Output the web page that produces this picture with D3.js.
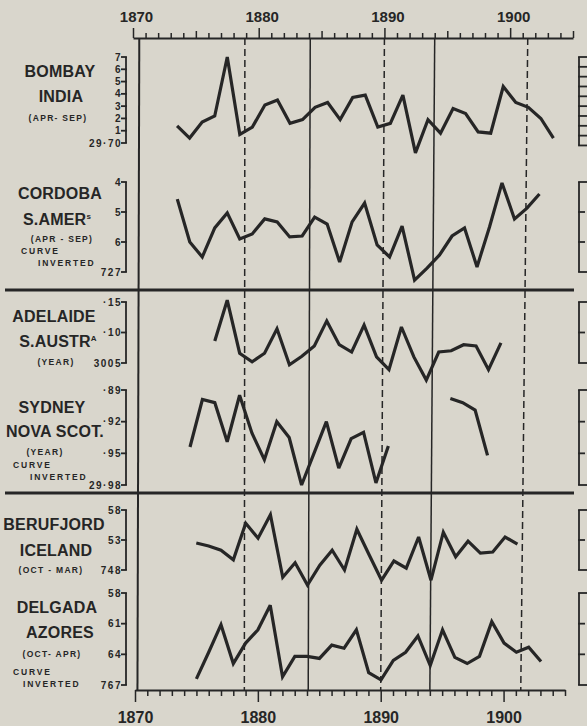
<!DOCTYPE html>
<html>
<head>
<meta charset="utf-8">
<script src="https://cdn.jsdelivr.net/npm/d3@7"></script>
<style>
    body { margin: 0; background: #d9d6cc; }
    svg { display: block; }
    text { font-family: "Liberation Sans", Arial, sans-serif; fill: #262626; }
</style>
</head>
<body>
<div id="chart"></div>
<script>
// sunspot epochs (dashed = minimum, solid = maximum)
const sunspotMin = [1878.9, 1890.0, 1901.4];
const sunspotMax = [1884.1, 1894.0];

// pressure readings, in the units of each left-hand scale
const bombayStart = 1873;
const bombayValues = [1.4, 0.4, 1.7, 2.2, 7.0, 0.7, 1.3, 3.1, 3.5, 1.6, 1.9, 2.9, 3.3, 1.9, 3.7, 3.9,
    1.3, 1.6, 3.9, -0.8, 1.9, 0.8, 2.8, 2.4, 0.9, 0.8, 4.6, 3.3, 2.9, 2.0, 0.4];
const bombayTicks = [0, 1, 2, 3, 4, 5, 6, 7];
const bombayTickLabels = ["29·70", "1", "2", "3", "4", "5", "6", "7"];
const bombayRightTicks = [-0.2, 0.6, 1.4, 2.2, 3.0, 3.8, 4.6, 5.4, 6.2, 7.0];

const cordobaStart = 1873;
const cordobaValues = [4.57, 6.00, 6.50, 5.53, 5.03, 5.90, 5.73, 5.23, 5.33, 5.83, 5.80, 5.17, 5.40, 6.67,
    5.33, 4.70, 6.10, 6.50, 5.47, 7.27, 6.87, 6.43, 5.80, 5.53, 6.83, 5.50, 4.03, 5.23, 4.87, 4.40];
const cordobaTicks = [4, 5, 6, 7];
const cordobaTickLabels = ["4", "5", "6", "727"];

const adelaideStart = 1876;
const adelaideValues = [8.6, 15.3, 6.6, 5.2, 6.6, 10.6, 4.7, 6.1, 7.8, 11.9, 8.0, 6.8, 11.2, 6.0, 3.9,
    10.9, 6.0, 2.2, 6.8, 7.0, 8.0, 7.8, 3.9, 8.3];
const adelaideTicks = [5, 10, 15];
const adelaideTickLabels = ["3005", "·10", "·15"];

const sydneyStart = 1874;
const sydneyValues = [94.4, 89.9, 90.2, 93.9, 89.5, 93.1, 95.6, 92.0, 93.5, 98.0, 95.0, 92.0, 96.4, 93.6,
    93.0, 97.8, 94.3, null, null, null, null, 89.8, 90.2, 90.9, 95.2];
const sydneyTicks = [89, 92, 95, 98];
const sydneyTickLabels = ["·89", "·92", "·95", "29·98"];

const berufjordStart = 1875;
const berufjordValues = [52.5, 52.0, 51.3, 49.7, 55.8, 53.3, 57.2, 46.8, 49.2, 45.5, 48.8, 51.3, 48.0, 54.8,
    50.5, 46.3, 49.5, 48.3, 53.5, 46.3, 54.3, 50.2, 52.8, 50.8, 51.0, 53.5, 52.3];
const berufjordTicks = [48, 53, 58];
const berufjordTickLabels = ["748", "53", "58"];

const delgadaStart = 1875;
const delgadaValues = [66.4, 63.8, 61.1, 64.9, 62.9, 61.6, 59.2, 66.2, 64.2, 64.2, 64.4, 63.1, 63.4, 61.6,
    65.8, 66.5, 64.6, 63.8, 62.2, 65.1, 61.6, 64.3, 64.9, 64.2, 60.8, 62.9, 63.8, 63.3, 64.7];
const delgadaTicks = [58, 61, 64, 67];
const delgadaTickLabels = ["58", "61", "64", "767"];


class PressureVis {

    constructor(parentElement) {
        this.parentElement = parentElement;
        this.initVis();
    }

    initVis() {
        let vis = this;

        vis.width = 587;
        vis.height = 726;
        vis.topY = 38;
        vis.bottomY = 690;
        vis.ink = "#262626";

        vis.svg = d3.select("#" + vis.parentElement).append("svg")
            .attr("width", vis.width)
            .attr("height", vis.height);

        vis.svg.append("rect")
            .attr("width", vis.width)
            .attr("height", vis.height)
            .attr("fill", "#d9d6cc");

        // the photo is slightly keystoned: top axis wider than bottom axis
        vis.xTop = d3.scaleLinear().domain([1870, 1905]).range([133, 573]);
        vis.xBottom = d3.scaleLinear().domain([1870, 1905]).range([135, 565]);

        // panels: scale range (pixels) + text lines
        vis.panels = [
            {values: bombayValues, start: bombayStart, ticks: bombayTicks, tickLabels: bombayTickLabels,
                rightTicks: bombayRightTicks, range: [143, 57], offset: 0.5,
                lines: [["BOMBAY", 60, 77, "big"], ["INDIA", 61, 102, "big"], ["(APR- SEP)", 58, 121, "small"]]},
            {values: cordobaValues, start: cordobaStart, ticks: cordobaTicks, tickLabels: cordobaTickLabels,
                range: [182, 272], offset: 0.5,
                lines: [["CORDOBA", 60, 199, "big"], ["S.AMER", 57, 225, "big", "s"], ["(APR - SEP)", 62, 242, "small"],
                    ["CURVE", 21, 254, "left"], ["INVERTED", 38, 266, "left"]]},
            {values: adelaideValues, start: adelaideStart, ticks: adelaideTicks, tickLabels: adelaideTickLabels,
                range: [363, 302], offset: 0.5,
                lines: [["ADELAIDE", 54, 322, "big"], ["S.AUSTR", 58, 347, "big", "A"], ["(YEAR)", 56, 365, "small"]]},
            {values: sydneyValues, start: sydneyStart, ticks: sydneyTicks, tickLabels: sydneyTickLabels,
                range: [390, 485], offset: 0.5,
                lines: [["SYDNEY", 52, 413, "big"], ["NOVA SCOT.", 55, 437, "big"], ["(YEAR)", 45, 455, "small"],
                    ["CURVE", 13, 468, "left"], ["INVERTED", 30, 480, "left"]]},
            {values: berufjordValues, start: berufjordStart, ticks: berufjordTicks, tickLabels: berufjordTickLabels,
                range: [570, 510], offset: 0,
                lines: [["BERUFJORD", 54, 530, "big"], ["ICELAND", 56, 556, "big"], ["(OCT - MAR)", 51, 573, "small"]]},
            {values: delgadaValues, start: delgadaStart, ticks: delgadaTicks, tickLabels: delgadaTickLabels,
                range: [593, 685], offset: 0,
                lines: [["DELGADA", 57, 613, "big"], ["AZORES", 60, 638, "big"], ["(OCT- APR)", 52, 657, "small"],
                    ["CURVE", 13, 675, "left"], ["INVERTED", 23, 687, "left"]]}
        ];

        vis.drawFrame();
        vis.updateVis();
    }

    // x scale for a panel, interpolated between top and bottom axis
    panelX(yMid) {
        let vis = this;
        let f = (yMid - vis.topY) / (vis.bottomY - vis.topY);
        let r0 = vis.xTop.range(), r1 = vis.xBottom.range();
        return d3.scaleLinear()
            .domain(vis.xTop.domain())
            .range([r0[0] + (r1[0] - r0[0]) * f, r0[1] + (r1[1] - r0[1]) * f]);
    }

    drawFrame() {
        let vis = this;

        // sunspot lines
        let epochs = sunspotMin.map(t => ({t: t, dashed: true}))
            .concat(sunspotMax.map(t => ({t: t, dashed: false})));
        vis.svg.append("g").selectAll("line")
            .data(epochs)
            .enter().append("line")
            .attr("x1", d => vis.xTop(d.t))
            .attr("x2", d => vis.xBottom(d.t))
            .attr("y1", vis.topY)
            .attr("y2", vis.bottomY)
            .attr("stroke", vis.ink)
            .attr("stroke-width", 1.5)
            .attr("stroke-dasharray", d => d.dashed ? "7,4" : null);

        // left frame line
        vis.svg.append("line")
            .attr("x1", vis.xTop(1870.5)).attr("x2", vis.xBottom(1870.2))
            .attr("y1", vis.topY).attr("y2", vis.bottomY)
            .attr("stroke", vis.ink).attr("stroke-width", 2);

        // group separators
        vis.svg.append("g").selectAll("line")
            .data([290, 493])
            .enter().append("line")
            .attr("x1", 5).attr("x2", 574)
            .attr("y1", d => d).attr("y2", d => d)
            .attr("stroke", vis.ink).attr("stroke-width", 3);

        let yearTicks = d3.range(1870, 1906);

        // top axis
        let topAxis = d3.axisTop(vis.xTop)
            .tickValues(yearTicks)
            .tickSize(5)
            .tickSizeOuter(0)
            .tickFormat(d => d % 10 === 0 ? d : "");
        let gTop = vis.svg.append("g")
            .attr("transform", `translate(0,${vis.topY})`)
            .call(topAxis);
        gTop.select(".domain").attr("stroke", vis.ink).attr("stroke-width", 2);
        gTop.selectAll(".tick line")
            .attr("stroke", vis.ink).attr("stroke-width", 1.5)
            .attr("y2", d => d % 10 === 0 ? -10 : (d % 5 === 0 ? -7 : -5));
        gTop.selectAll(".tick text")
            .attr("y", -16).attr("dx", 3)
            .style("font-size", "15px").style("font-weight", "bold")
            .attr("fill", vis.ink);

        // bottom axis
        let bottomAxis = d3.axisBottom(vis.xBottom)
            .tickValues(yearTicks)
            .tickSize(5)
            .tickSizeOuter(0)
            .tickFormat(d => d % 10 === 0 ? d : "");
        let gBot = vis.svg.append("g")
            .attr("transform", `translate(0,${vis.bottomY})`)
            .call(bottomAxis);
        gBot.select(".domain").attr("stroke", vis.ink).attr("stroke-width", 2);
        gBot.selectAll(".tick line")
            .attr("stroke", vis.ink).attr("stroke-width", 1.5)
            .attr("y2", d => d % 10 === 0 ? 12 : 6);
        gBot.selectAll(".tick text")
            .attr("y", 33).attr("dy", 0)
            .style("font-size", "16px").style("font-weight", "bold")
            .attr("fill", vis.ink);
    }

    updateVis() {
        let vis = this;

        vis.panels.forEach(p => {
            let y = d3.scaleLinear()
                .domain(d3.extent(p.ticks))
                .range(p.range);
            let x = vis.panelX((p.range[0] + p.range[1]) / 2);

            let data = p.values.map((v, i) => ({year: p.start + i, value: v}));

            // left scale bracket
            let left = vis.svg.append("g").attr("class", "left-scale");
            left.append("line")
                .attr("x1", 126).attr("x2", 126)
                .attr("y1", y(d3.min(p.ticks))).attr("y2", y(d3.max(p.ticks)))
                .attr("stroke", vis.ink).attr("stroke-width", 1.8);
            left.selectAll(".tk")
                .data(p.ticks)
                .enter().append("line")
                .attr("x1", 121).attr("x2", 126.9)
                .attr("y1", d => y(d)).attr("y2", d => y(d))
                .attr("stroke", vis.ink).attr("stroke-width", 1.8);
            left.selectAll("text")
                .data(p.ticks)
                .enter().append("text")
                .attr("x", 122)
                .attr("y", d => y(d) + 3.5)
                .attr("text-anchor", "end")
                .style("font-size", "10px")
                .style("font-weight", "bold")
                .style("letter-spacing", "1.5px")
                .text((d, i) => p.tickLabels[i]);

            // right scale bracket (runs off the page edge)
            let rTicks = p.rightTicks || p.ticks;
            let right = vis.svg.append("g").attr("class", "right-scale");
            right.append("line")
                .attr("x1", 579).attr("x2", 579)
                .attr("y1", y(d3.min(rTicks))).attr("y2", y(d3.max(rTicks)))
                .attr("stroke", vis.ink).attr("stroke-width", 1.8);
            right.selectAll(".tk")
                .data(rTicks)
                .enter().append("line")
                .attr("x1", 578.1)
                .attr("x2", (d, i) => (i === 0 || i === rTicks.length - 1 || p.rightTicks) ? 590 : 585)
                .attr("y1", d => y(d)).attr("y2", d => y(d))
                .attr("stroke", vis.ink).attr("stroke-width", 1.8);

            // the pressure curve
            let line = d3.line()
                .defined(d => d.value !== null)
                .x(d => x(d.year + p.offset))
                .y(d => y(d.value));

            vis.svg.append("path")
                .datum(data)
                .attr("d", line)
                .attr("fill", "none")
                .attr("stroke", vis.ink)
                .attr("stroke-width", 3.2)
                .attr("stroke-linejoin", "miter")
                .attr("stroke-miterlimit", 3);

            // station captions
            p.lines.forEach(l => {
                let t = vis.svg.append("text")
                    .attr("x", l[1])
                    .attr("y", l[2])
                    .style("font-weight", "bold");
                if (l[3] === "big") {
                    t.attr("text-anchor", "middle").style("font-size", "16px").style("letter-spacing", "0.2px");
                } else if (l[3] === "small") {
                    t.attr("text-anchor", "middle").style("font-size", "8.5px").style("letter-spacing", "1.3px");
                } else {
                    t.attr("text-anchor", "start").style("font-size", "8.5px").style("letter-spacing", "1.8px");
                }
                t.append("tspan").text(l[0]);
                if (l[4]) {
                    t.append("tspan")
                        .attr("dy", -6)
                        .style("font-size", "8px")
                        .text(l[4]);
                }
            });
        });
    }
}

new PressureVis("chart");
</script>
</body>
</html>
